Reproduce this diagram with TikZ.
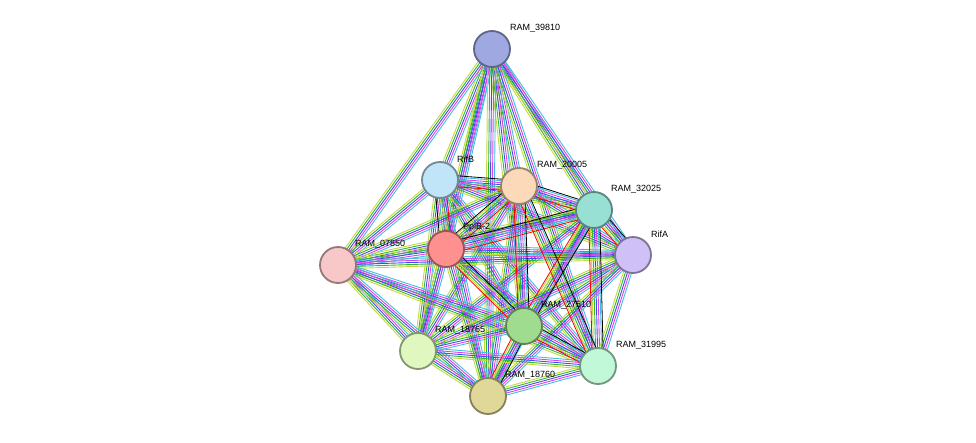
\documentclass[tikz,border=0pt]{standalone}
\usepackage{fontspec}
\setmainfont{Liberation Sans}
\usetikzlibrary{calc}
\definecolor{c1}{HTML}{9FA8E0}
\definecolor{c2}{HTML}{C0E4F8}
\definecolor{c3}{HTML}{FCD9B8}
\definecolor{c4}{HTML}{98E0D4}
\definecolor{c5}{HTML}{FF9090}
\definecolor{c6}{HTML}{F8C8C8}
\definecolor{c7}{HTML}{D0C0F8}
\definecolor{c8}{HTML}{A0DC90}
\definecolor{c9}{HTML}{E0F8C0}
\definecolor{c10}{HTML}{C0F8D8}
\definecolor{c11}{HTML}{E0D898}
\definecolor{e1}{HTML}{C8D840}
\definecolor{e2}{HTML}{30B830}
\definecolor{e3}{HTML}{4848F0}
\definecolor{e4}{HTML}{E040E0}
\definecolor{e5}{HTML}{40C0E0}
\tikzset{prot/.style={circle,minimum size=36pt,inner sep=0pt,line width=1.8pt},
lab/.style={font=\fontsize{9}{10}\selectfont,anchor=south west,inner sep=1pt}}
\begin{document}
\begin{tikzpicture}[x=1pt,y=-1pt]
\useasboundingbox[fill=white] (0,0) rectangle (976,442);
\foreach \n/\x/\y in {1/492/49,2/440/180,3/519/186,4/594/210,5/446/249,6/338/265,7/633/255,8/524/326,9/418/351,10/598/366,11/488/396}
  \coordinate (p\n) at (\x,\y);
\foreach \i in {1,...,11}{
  \foreach \j in {1,...,11}{
    \ifnum\j>\i
      \foreach \o/\c in {-4/e1,-2/e2,0/e3,2/e4,4/e5}{
        \draw[\c,line width=0.9pt] ($(p\i)!\o pt!90:(p\j)$) -- ($(p\j)!\o pt!-90:(p\i)$);
      }
    \fi
  }
}
\foreach \i/\j in {5/3,5/4,3/4,5/8,3/8,4/8,4/10,8/10,5/2,2/3,8/11,4/7,3/10}{
  \draw[black,line width=0.8pt] ($(p\i)!5.5pt!90:(p\j)$) -- ($(p\j)!5.5pt!-90:(p\i)$);
  \draw[red,line width=0.8pt] ($(p\i)!-5.5pt!90:(p\j)$) -- ($(p\j)!-5.5pt!-90:(p\i)$);
}
\foreach \n in {1,...,11}
  \node[prot,fill=c\n,draw=c\n!60!black] (n\n) at (p\n) {};
\node[lab] (l1) at (509,33) {RAM\_39810};
\node[lab] (l2) at (456,164) {RifB};
\node[lab] (l3) at (536,170) {RAM\_20005};
\node[lab] (l4) at (610,194) {RAM\_32025};
\node[lab] (l5) at (462,233) {PpiB-2};
\node[lab] (l6) at (354,249) {RAM\_07850};
\node[lab] (l7) at (650,239) {RifA};
\node[lab] (l8) at (540,310) {RAM\_27510};
\node[lab] (l9) at (434,335) {RAM\_18765};
\node[lab] (l10) at (615,350) {RAM\_31995};
\node[lab] (l11) at (504,380) {RAM\_18760};
\end{tikzpicture}
\end{document}
